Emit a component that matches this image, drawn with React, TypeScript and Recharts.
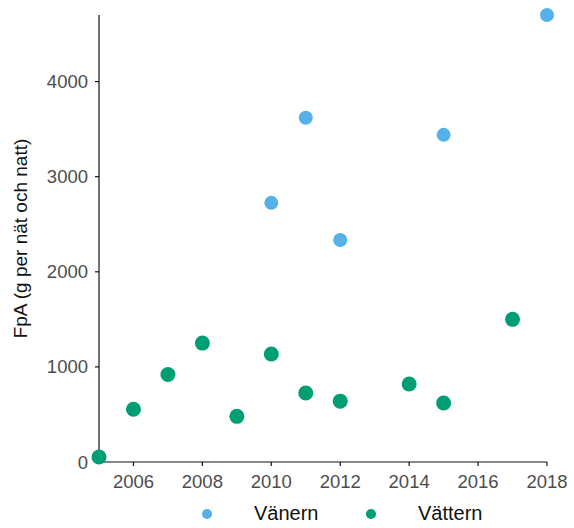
import React from "react";
import { ScatterChart, Scatter, XAxis, YAxis, Legend } from "recharts";

const vanernYears = [2010, 2011, 2012, 2015, 2018];
const vanernValues = [2725, 3620, 2335, 3440, 4700];
const vatternYears = [2005, 2006, 2007, 2008, 2009, 2010, 2011, 2012, 2014, 2015, 2017];
const vatternValues = [53, 555, 920, 1250, 480, 1135, 725, 640, 820, 620, 1500];
const xTicks = [2006, 2008, 2010, 2012, 2014, 2016, 2018];
const yTicks = [0, 1000, 2000, 3000, 4000];

const vanern = vanernYears.map((year, i) => ({ year, value: vanernValues[i] }));
const vattern = vatternYears.map((year, i) => ({ year, value: vatternValues[i] }));

const FONT = "'Liberation Sans', Arial, sans-serif";
const BLUE = "#56B1E8";
const GREEN = "#009E73";

// legend: dot + name, laid out like the ggplot one
const DotLegend = ({ payload }: any) => {
  const pos = [
    { dot: 207, text: 254 },
    { dot: 371, text: 418 },
  ];
  return (
    <div style={{ position: "relative", width: 574, height: 28, fontFamily: FONT }}>
      {(payload || []).map((entry: any, i: number) => (
        <React.Fragment key={`leg-${i}`}>
          <span
            style={{
              position: "absolute",
              left: pos[i].dot - 5,
              top: 11,
              width: 10,
              height: 10,
              borderRadius: "50%",
              background: entry.color,
            }}
          />
          <span
            style={{
              position: "absolute",
              left: pos[i].text,
              top: 3,
              fontSize: 20,
              lineHeight: "24px",
              color: "#111",
            }}
          >
            {entry.value}
          </span>
        </React.Fragment>
      ))}
    </div>
  );
};

export default function App() {
  return (
    <div style={{ position: "absolute", left: 0, top: 0, width: 574, height: 528, background: "#fff" }}>
      <ScatterChart width={574} height={528} margin={{ top: 15, right: 27, bottom: 0, left: 0 }}>
        <XAxis
          type="number"
          dataKey="year"
          domain={[2005, 2018]}
          ticks={xTicks}
          height={36}
          tickSize={4}
          tickMargin={9}
          stroke="#111"
          strokeWidth={1.2}
          tick={{ fill: "#4d4d4d", fontSize: 18.5, fontFamily: FONT }}
        />
        <YAxis
          type="number"
          dataKey="value"
          domain={[0, 4700]}
          ticks={yTicks}
          width={99}
          tickSize={4}
          tickMargin={7}
          stroke="#111"
          strokeWidth={1.2}
          tick={{ fill: "#4d4d4d", fontSize: 18.5, fontFamily: FONT }}
          label={{
            value: "FpA (g per nät och natt)",
            angle: -90,
            position: "insideLeft",
            offset: 20,
            style: { textAnchor: "middle", fill: "#111", fontSize: 19, fontFamily: FONT },
          }}
        />
        <Legend
          verticalAlign="bottom"
          height={30}
          content={<DotLegend />}
          wrapperStyle={{ left: 0, width: 574 }}
        />
        <Scatter
          name="Vänern"
          data={vanern}
          fill={BLUE}
          isAnimationActive={false}
          shape={(p: any) => <circle cx={p.cx} cy={p.cy} r={7} fill={BLUE} />}
        />
        <Scatter
          name="Vättern"
          data={vattern}
          fill={GREEN}
          isAnimationActive={false}
          shape={(p: any) => <circle cx={p.cx} cy={p.cy} r={7.5} fill={GREEN} />}
        />
      </ScatterChart>
    </div>
  );
}
